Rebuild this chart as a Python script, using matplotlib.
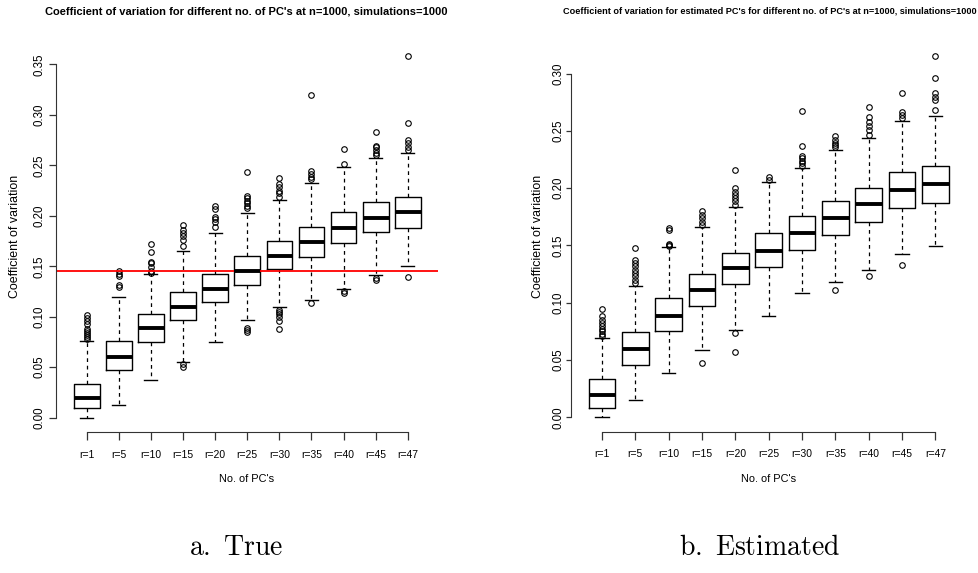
import matplotlib
matplotlib.use("Agg")
import matplotlib.pyplot as plt
from matplotlib import font_manager

# labels
labels = ['r=1', 'r=5', 'r=10', 'r=15', 'r=20', 'r=25', 'r=30', 'r=35', 'r=40', 'r=45', 'r=47']

# a. True
true_lo = [0.000, 0.0129, 0.0376, 0.0555, 0.0750, 0.0964, 0.1099, 0.1165, 0.1277, 0.1410, 0.1505]
true_q1 = [0.0093, 0.0472, 0.0753, 0.0967, 0.1142, 0.1314, 0.1472, 0.1594, 0.1727, 0.1839, 0.1881]
true_med = [0.0198, 0.0601, 0.0888, 0.1099, 0.1277, 0.1456, 0.1604, 0.1737, 0.1878, 0.1977, 0.2034]
true_q3 = [0.0331, 0.0762, 0.1030, 0.1241, 0.1423, 0.1604, 0.1750, 0.1888, 0.2034, 0.2136, 0.2182]
true_hi = [0.0760, 0.1195, 0.1420, 0.1653, 0.1832, 0.2024, 0.2159, 0.2327, 0.2482, 0.2571, 0.2621]
true_out = [
    [0.0782, 0.0802, 0.0822, 0.0842, 0.0862, 0.0882, 0.0931, 0.0961, 0.0990, 0.1020],
    [0.1290, 0.1310, 0.1405, 0.1425, 0.1450],
    [0.1436, 0.1456, 0.1495, 0.1528, 0.1545, 0.1644, 0.1720],
    [0.0505, 0.0532, 0.1703, 0.1760, 0.1800, 0.1830, 0.1860, 0.1906],
    [0.1890, 0.1940, 0.1964, 0.1990, 0.2066, 0.2099],
    [0.0852, 0.0868, 0.0891, 0.2073, 0.2100, 0.2123, 0.2146, 0.2172, 0.2195, 0.2433],
    [0.0875, 0.0960, 0.0994, 0.1024, 0.1043, 0.1066, 0.2188, 0.2222, 0.2248, 0.2287, 0.2314, 0.2370],
    [0.1133, 0.2360, 0.2386, 0.2413, 0.2443, 0.3202],
    [0.1232, 0.1254, 0.2515, 0.2667],
    [0.1363, 0.1386, 0.2601, 0.2624, 0.2650, 0.2683, 0.2697, 0.2826],
    [0.1390, 0.2650, 0.2683, 0.2723, 0.2750, 0.2925, 0.3581],
]
true_ref = 0.1456

# b. Estimated
est_lo = [0.000, 0.0148, 0.0384, 0.0584, 0.0759, 0.0884, 0.1085, 0.1181, 0.1288, 0.1428, 0.1497]
est_q1 = [0.0082, 0.0460, 0.0750, 0.0971, 0.1160, 0.1308, 0.1462, 0.1593, 0.1709, 0.1826, 0.1870]
est_med = [0.0192, 0.0599, 0.0887, 0.1114, 0.1300, 0.1454, 0.1605, 0.1741, 0.1861, 0.1986, 0.2035]
est_q3 = [0.0331, 0.0741, 0.1044, 0.1247, 0.1430, 0.1608, 0.1753, 0.1890, 0.2006, 0.2143, 0.2198]
est_hi = [0.0689, 0.1142, 0.1483, 0.1657, 0.1835, 0.2050, 0.2175, 0.2337, 0.2439, 0.2585, 0.2631]
est_out = [
    [0.0706, 0.0730, 0.0750, 0.0771, 0.0794, 0.0823, 0.0852, 0.0881, 0.0948],
    [0.1172, 0.1201, 0.1230, 0.1259, 0.1288, 0.1317, 0.1346, 0.1375, 0.1480],
    [0.1495, 0.1505, 0.1510, 0.1635, 0.1652],
    [0.0471, 0.1680, 0.1709, 0.1739, 0.1768, 0.1797],
    [0.0570, 0.0736, 0.1855, 0.1884, 0.1913, 0.1942, 0.1971, 0.2006, 0.2160],
    [0.2073, 0.2096],
    [0.2195, 0.2218, 0.2241, 0.2262, 0.2282, 0.2369, 0.2675],
    [0.1114, 0.2358, 0.2378, 0.2398, 0.2422, 0.2459],
    [0.1230, 0.2465, 0.2509, 0.2544, 0.2581, 0.2620, 0.2712],
    [0.1332, 0.2611, 0.2640, 0.2669, 0.2829],
    [0.2683, 0.2770, 0.2794, 0.2834, 0.2960, 0.3154],
]

true_yticks = [0.00, 0.05, 0.10, 0.15, 0.20, 0.25, 0.30, 0.35]
est_yticks = [0.00, 0.05, 0.10, 0.15, 0.20, 0.25, 0.30]

W, H = 979, 573
names = {f.name for f in font_manager.fontManager.ttflist}
narrow = 'Liberation Sans Narrow' if 'Liberation Sans Narrow' in names else 'Liberation Sans'
plt.rcParams['font.family'] = ['Liberation Sans', 'DejaVu Sans']
plt.rcParams['mathtext.fontset'] = 'cm'

fig = plt.figure(figsize=(W / 100, H / 100), dpi=100)


def box_axes(x0, x1, y0, y1):
    return fig.add_axes([x0 / W, 1 - y1 / H, (x1 - x0) / W, (y1 - y0) / H])


def draw_panel(ax, lo, q1, med, q3, hi, out, yticks, ylim, ytick_len, ypad):
    stats = []
    for i in range(len(labels)):
        stats.append(dict(whislo=lo[i], q1=q1[i], med=med[i], q3=q3[i],
                          whishi=hi[i], fliers=out[i]))
    ax.bxp(stats, positions=range(1, len(labels) + 1), widths=0.8,
           boxprops=dict(color='black', lw=1.0),
           medianprops=dict(color='black', lw=2.8, solid_capstyle='butt'),
           whiskerprops=dict(color='black', lw=0.9, linestyle=(0, (3, 3))),
           capprops=dict(color='black', lw=1.0),
           flierprops=dict(marker='o', markerfacecolor='none', markeredgecolor='black',
                           markersize=4, markeredgewidth=0.8))
    ax.set_xlim(0.06, 11.94)
    ax.set_ylim(*ylim)
    for s in ['top', 'right']:
        ax.spines[s].set_visible(False)
    ax.spines['left'].set_bounds(yticks[0], yticks[-1])
    ax.spines['bottom'].set_bounds(1, len(labels))
    ax.spines['left'].set_color('#333333')
    ax.spines['bottom'].set_color('#333333')
    ax.set_xticks(range(1, len(labels) + 1))
    ax.set_xticklabels(labels, fontsize=7.5, family=narrow)
    ax.set_yticks(yticks)
    ax.set_yticklabels(['%.2f' % v for v in yticks], fontsize=8.3, rotation=90, va='center')
    ax.tick_params(axis='x', length=5.5, pad=7.2, width=0.9, color='#333333')
    ax.tick_params(axis='y', length=ytick_len, pad=ypad, width=0.9, color='#333333')


ax1 = box_axes(56.5, 438, 42, 432)
draw_panel(ax1, true_lo, true_q1, true_med, true_q3, true_hi, true_out,
           true_yticks, (-0.0143, 0.3723), 4.8, 2.9)
ax1.axhline(true_ref, color='red', lw=1.3)

ax2 = box_axes(570.7, 966.7, 41.6, 431.7)
draw_panel(ax2, est_lo, est_q1, est_med, est_q3, est_hi, est_out,
           est_yticks, (-0.0126, 0.328), 3.4, 1.2)

t1 = fig.text(246.5 / W, 1 - 11 / H,
              "Coefficient of variation for different no. of PC's at n=1000, simulations=1000",
              ha='center', va='center', fontsize=8.3, fontweight='bold', family=narrow)
t2 = fig.text(770 / W, 1 - 11 / H,
              "Coefficient of variation for estimated PC's for different no. of PC's at n=1000, simulations=1000",
              ha='center', va='center', fontsize=8.3, fontweight='bold', family=narrow)

fig.text(15 / W, 1 - 236.5 / H, 'Coefficient of variation', rotation=90,
         ha='center', va='center', fontsize=8.9)
fig.text(538 / W, 1 - 236.5 / H, 'Coefficient of variation', rotation=90,
         ha='center', va='center', fontsize=8.9)
fig.text(247 / W, 1 - 478.7 / H, "No. of PC's", ha='center', va='center',
         fontsize=7.9, family=narrow)
fig.text(769 / W, 1 - 478.7 / H, "No. of PC's", ha='center', va='center',
         fontsize=7.9, family=narrow)

fig.text(236 / W, 1 - 548 / H, r'$\mathrm{a.\ True}$', ha='center', va='center', fontsize=20)
fig.text(760 / W, 1 - 548 / H, r'$\mathrm{b.\ Estimated}$', ha='center', va='center', fontsize=20)

# squeeze titles to the width they take in the original
fig.canvas.draw()
for t, target in [(t1, 403), (t2, 412)]:
    w = t.get_window_extent().width
    t.set_fontsize(t.get_fontsize() * target / w)

fig.savefig('out.png', dpi=100, facecolor='white')
